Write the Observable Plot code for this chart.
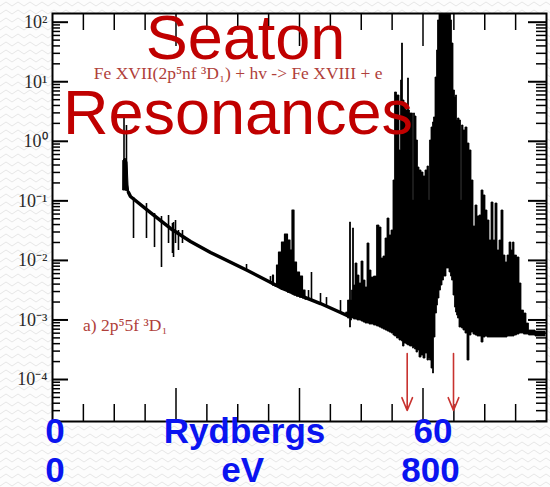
<!DOCTYPE html>
<html><head><meta charset="utf-8">
<script src="https://cdn.jsdelivr.net/npm/d3@7"></script>
<script src="https://cdn.jsdelivr.net/npm/@observablehq/plot@0.6"></script>
<style>
html,body{margin:0;padding:0;}
body{width:550px;height:487px;overflow:hidden;background-color:#fdfdfd;
background-image:url("data:image/svg+xml;utf8,<svg xmlns='http://www.w3.org/2000/svg' width='12' height='8'><polyline points='0,6 6,2 12,6' fill='none' stroke='%23e6e6e6' stroke-width='1'/></svg>");}
svg{display:block;}
</style></head><body>
<script>
// ---- axes (photon energy in Ry, cross section in Mb, log scale) ----
const xDomain = [0, 80];
const yDomain = [10 ** -4.705, 10 ** 2.146];
const yDecades = [1e-4, 1e-3, 1e-2, 1e-1, 1, 10, 100];
const xMajorTicks = [20, 40, 60];
const xMinorTicks = [5, 10, 15, 25, 30, 35, 45, 50, 55, 65, 70, 75];

// ---- smooth continuum (E in Ry, log10 sigma) ----
const bgE = [12.31, 12.63, 15.87, 19.11, 22.35, 25.59, 31.58, 36.92, 40.16, 43.40, 46.64, 47.77];
const bgLog = [-0.860, -0.927, -1.196, -1.464, -1.683, -1.867, -2.170, -2.455, -2.590, -2.724, -2.875, -2.926];

// ---- threshold edge resonances ----
const edgeE = [11.50, 11.82, 12.15, 12.31, 12.47];
const edgeLo = [-0.826, -0.826, -0.843, -0.860, -0.893];
const edgeHi = [-0.322, -0.289, -0.356, -0.742, -0.893];

// ---- resonance group near 37-41 Ry ----
const bE = [35.63, 35.79, 35.95, 36.28, 36.44, 36.92, 37.41, 37.89, 38.38, 38.70, 39.03, 39.35, 39.84, 40.32, 40.81, 41.13];
const bLo = [-2.405, -2.422, -2.422, -2.439, -2.439, -2.455, -2.489, -2.506, -2.540, -2.556, -2.573, -2.590, -2.607, -2.624, -2.640, -2.657];
const bHi = [-2.405, -2.254, -2.422, -2.439, -2.086, -1.867, -1.700, -1.565, -1.666, -1.834, -1.162, -2.035, -2.203, -2.271, -2.506, -2.657];

// ---- Seaton resonance complex 47-80 Ry ----
const cE = [47.61, 48.10, 48.26, 48.42, 48.58, 48.74, 48.91, 49.23, 49.55, 49.88,
  50.20, 50.53, 50.85, 51.17, 51.50, 51.82, 52.31, 52.79, 53.12, 53.44,
  53.77, 54.09, 54.41, 54.74, 55.06, 55.38, 55.55, 56.03, 56.36, 56.52,
  56.68, 56.84, 57.17, 57.49, 57.65, 57.81, 57.98, 58.30, 58.46, 58.62,
  58.79, 59.11, 59.27, 59.60, 59.92, 60.24, 60.57, 60.89, 61.05, 61.21,
  61.54, 61.70, 61.86, 62.19, 62.35, 62.51, 62.83, 63.00, 63.32, 63.48,
  64.13, 64.45, 64.62, 64.78, 65.10, 65.26, 65.43, 65.59, 65.75, 66.07,
  66.24, 66.40, 66.72, 67.04, 67.37, 67.69, 68.02, 68.34, 68.66, 68.99,
  69.31, 69.64, 69.96, 70.28, 70.61, 70.93, 71.26, 71.58, 71.90, 72.23,
  72.55, 72.87, 73.20, 73.52, 73.85, 74.17, 74.49, 74.66, 74.98, 75.47,
  75.79, 76.11, 76.60, 76.92, 77.41, 79.03, 79.84];
const cLo = [-2.909, -2.976, -3.127, -3.009, -2.976, -2.976, -2.993, -2.993, -3.009, -3.009,
  -3.026, -3.043, -3.060, -3.060, -3.077, -3.077, -3.094, -3.110, -3.127, -3.144,
  -3.161, -3.177, -3.194, -3.211, -3.228, -3.261, -3.278, -3.312, -3.345, -3.345,
  -3.362, -3.446, -3.396, -3.412, -3.429, -3.429, -3.446, -3.446, -3.480, -3.463,
  -3.496, -3.547, -3.513, -3.631, -3.597, -3.648, -3.563, -3.681, -3.648, -3.681,
  -3.816, -3.899, -3.295, -2.892, -2.758, -2.640, -2.506, -2.422, -2.338, -2.271,
  -2.136, -2.203, -2.271, -2.338, -2.590, -2.792, -2.875, -2.926, -2.976, -3.127,
  -3.127, -3.144, -3.177, -3.228, -3.681, -3.261, -3.211, -3.245, -3.261, -3.278,
  -3.278, -3.379, -3.295, -3.278, -3.295, -3.295, -3.295, -3.295, -3.295, -3.295,
  -3.295, -3.295, -3.295, -3.295, -3.278, -3.278, -3.278, -3.278, -3.261, -3.245,
  -3.228, -3.228, -3.245, -3.245, -3.261, -3.278, -3.278];
const cHi = [-2.875, -2.674, -1.364, -2.674, -2.506, -1.464, -2.422, -2.052, -2.254, -2.388,
  -2.019, -2.338, -2.455, -1.716, -2.170, -2.288, -2.271, -1.414, -1.448, -1.968,
  -1.935, -1.632, -1.297, -1.582, -1.498, -0.658, 0.819, 0.769, -0.154, 1.021,
  1.642, 0.685, 0.601, 0.517, 1.055, 0.517, 0.467, 0.467, -0.994, 0.467,
  0.416, 0.013, -0.440, -0.490, -0.524, -0.591, -0.490, -0.423, -0.994, 0.013,
  0.232, 0.316, 0.400, 1.071, 1.525, 2.029, 2.129, 2.25, 2.25, 2.25,
  2.25, 2.25, 2.029, 1.642, 0.853, 0.735, 0.769, 0.349, 0.383, 0.349,
  -0.994, 0.265, 0.181, 0.232, -0.037, -0.154, -0.658, -1.431, -1.078, -1.263,
  -1.246, -0.826, -0.910, -1.162, -1.330, -1.666, -1.028, -1.666, -1.045, -1.834,
  -1.666, -1.162, -1.918, -2.035, -1.918, -1.700, -1.834, -1.700, -1.918, -1.951,
  -2.388, -2.842, -2.892, -3.060, -3.177, -3.194, -3.194];

// ---- isolated narrow resonances ----
const spikeE = [11.58, 11.98, 13.12, 15.22, 16.52, 17.65, 18.79, 19.43, 19.60, 19.92, 20.40, 21.05, 31.42, 35.30, 41.46, 41.94, 43.40, 44.37, 46.64];
const spikeLo = [-0.826, -0.826, -1.632, -1.632, -1.784, -2.119, -1.716, -1.884, -1.951, -1.716, -1.834, -1.716, -2.170, -2.388, -2.674, -2.691, -2.724, -2.758, -2.875];
const spikeHi = [0.383, 0.265, -0.944, -1.045, -1.213, -1.263, -1.246, -1.380, -1.364, -1.330, -1.498, -1.498, -2.069, -2.271, -2.506, -2.203, -2.556, -2.624, -2.674];

// ---- thresholds marked by arrows ----
const arrowE = [57.44, 64.94];
const arrowTopLog = [-3.563, -3.563];
const arrowTipLog = [-4.52, -4.52];

// ---- texts ----
const titleTexts = ["Seaton", "Resonances"];
const titleE = [31.26, 30.04];
const titleLog = [1.390, 0.131];
const noteTexts = ["Fe XVII(2p\u2075nf \u00b3D\u2081) + hv -> Fe XVIII + e", "a) 2p\u20755f \u00b3D\u2081"];
const noteE = [6.69, 4.94];
const noteLog = [1.046, -3.177];
const ryLabels = ["0", "Rydbergs", "60"];
const ryLabelE = [0.4, 31.1, 61.6];
const evLabels = ["0", "eV", "800"];
const evLabelE = [0.4, 30.8, 61.2];

// ---- build tables ----
const P = v => 10 ** v;
const bg = bgE.map((e, i) => ({e, s: P(bgLog[i])}));
const edge = edgeE.map((e, i) => ({e, lo: P(edgeLo[i]), hi: P(edgeHi[i])}));
const groupB = bE.map((e, i) => ({e, lo: P(bLo[i]), hi: P(bHi[i])}));
const groupC = cE.map((e, i) => ({e, lo: P(cLo[i]), hi: P(cHi[i])}));
const spikes = spikeE.map((e, i) => ({e, lo: P(spikeLo[i]), hi: P(spikeHi[i])}));
const arrows = arrowE.map((e, i) => ({e, top: P(arrowTopLog[i]), tip: P(arrowTipLog[i])}));
const titles = titleTexts.map((t, i) => ({t, e: titleE[i], s: P(titleLog[i])}));
const notes = noteTexts.map((t, i) => ({t, e: noteE[i], s: P(noteLog[i])}));
const ryRow = ryLabels.map((t, i) => ({t, e: ryLabelE[i]}));
const evRow = evLabels.map((t, i) => ({t, e: evLabelE[i]}));

const yMinor = [];
for (const d of [1e-5, ...yDecades]) for (let m = 2; m <= 9; m++) {
  const v = d * m; if (v > yDomain[0] && v < yDomain[1]) yMinor.push(v);
}
const sup = {"-": "\u207b", "0": "\u2070", "1": "\u00b9", "2": "\u00b2", "3": "\u00b3", "4": "\u2074", "5": "\u2075", "6": "\u2076", "7": "\u2077", "8": "\u2078", "9": "\u2079"};
const fmtPow = d => "10" + String(Math.round(Math.log10(d))).split("").map(c => sup[c]).join("");

const W = 550, H = 487, mL = 52, mR = 4, mT = 13, mB = 66;
const fw = W - mL - mR, fh = H - mT - mB;

const chart = Plot.plot({
  width: W, height: H, marginLeft: mL, marginRight: mR, marginTop: mT, marginBottom: mB,
  style: {background: "transparent", overflow: "visible"},
  x: {type: "linear", domain: xDomain, axis: null},
  y: {type: "log", domain: yDomain},
  marks: [
    Plot.frame({fill: "white", stroke: "none"}),
    Plot.areaY(edge, {x: "e", y1: "lo", y2: "hi", fill: "black", stroke: "black", strokeWidth: 1}),
    Plot.line(bg, {x: "e", y: "s", stroke: "black", strokeWidth: 3.5}),
    Plot.areaY(groupB, {x: "e", y1: "lo", y2: "hi", curve: "step", fill: "black", stroke: "black", strokeWidth: 1.2}),
    Plot.areaY(groupC, {x: "e", y1: "lo", y2: "hi", curve: "step", fill: "black", stroke: "black", strokeWidth: 0.8, clip: true}),
    Plot.ruleX(spikes, {x: "e", y1: "lo", y2: "hi", stroke: "black", strokeWidth: 1.6}),
    // inward ticks
    Plot.tickY(yDecades, {y: d => d, insetRight: fw - 16, stroke: "black", strokeWidth: 2}),
    Plot.tickY(yMinor, {y: d => d, insetRight: fw - 8, stroke: "black", strokeWidth: 1.5}),
    Plot.tickY(yDecades, {y: d => d, insetLeft: fw - 18, stroke: "black", strokeWidth: 2}),
    Plot.tickY(yMinor, {y: d => d, insetLeft: fw - 10, stroke: "black", strokeWidth: 1.5}),
    Plot.tickX(xMajorTicks, {x: d => d, insetBottom: fh - 33, stroke: "black", strokeWidth: 1.5}),
    Plot.tickX(xMinorTicks, {x: d => d, insetBottom: fh - 17, stroke: "black", strokeWidth: 1.5}),
    Plot.tickX(xMajorTicks, {x: d => d, insetTop: fh - 33, stroke: "black", strokeWidth: 1.5}),
    Plot.tickX(xMinorTicks, {x: d => d, insetTop: fh - 17, stroke: "black", strokeWidth: 1.5}),
    Plot.frame({stroke: "black", strokeWidth: 2}),
    Plot.axisY(yDecades, {anchor: "left", tickSize: 0, tickPadding: 5, tickFormat: fmtPow, label: null,
      fontSize: 18, fontFamily: "Liberation Serif, Times New Roman, serif", fill: "#2a2a2a"}),
    Plot.arrow(arrows, {x1: "e", x2: "e", y1: "top", y2: "tip", stroke: "#c8322f", strokeWidth: 1.6, headLength: 13, headAngle: 45}),
    Plot.text(notes, {x: "e", y: "s", text: "t", textAnchor: "start", lineAnchor: "bottom",
      fontSize: 17.5, fontFamily: "Liberation Serif, Times New Roman, serif", fill: "#b0403a"}),
    Plot.text(titles, {x: "e", y: "s", text: "t", textAnchor: "middle", lineAnchor: "bottom",
      fontSize: 63, fontFamily: "Liberation Sans, Arial, sans-serif", fill: "#c00000"}),
    Plot.text(ryRow, {x: "e", text: "t", frameAnchor: "bottom", dy: 21, lineAnchor: "bottom", textAnchor: "middle",
      fontSize: 35, fontWeight: "bold", fontFamily: "Liberation Sans, Arial, sans-serif", fill: "#0a14f0"}),
    Plot.text(evRow, {x: "e", text: "t", frameAnchor: "bottom", dy: 60, lineAnchor: "bottom", textAnchor: "middle",
      fontSize: 35, fontWeight: "bold", fontFamily: "Liberation Sans, Arial, sans-serif", fill: "#0a14f0"})
  ]
});
document.body.appendChild(chart);
</script>
</body></html>
